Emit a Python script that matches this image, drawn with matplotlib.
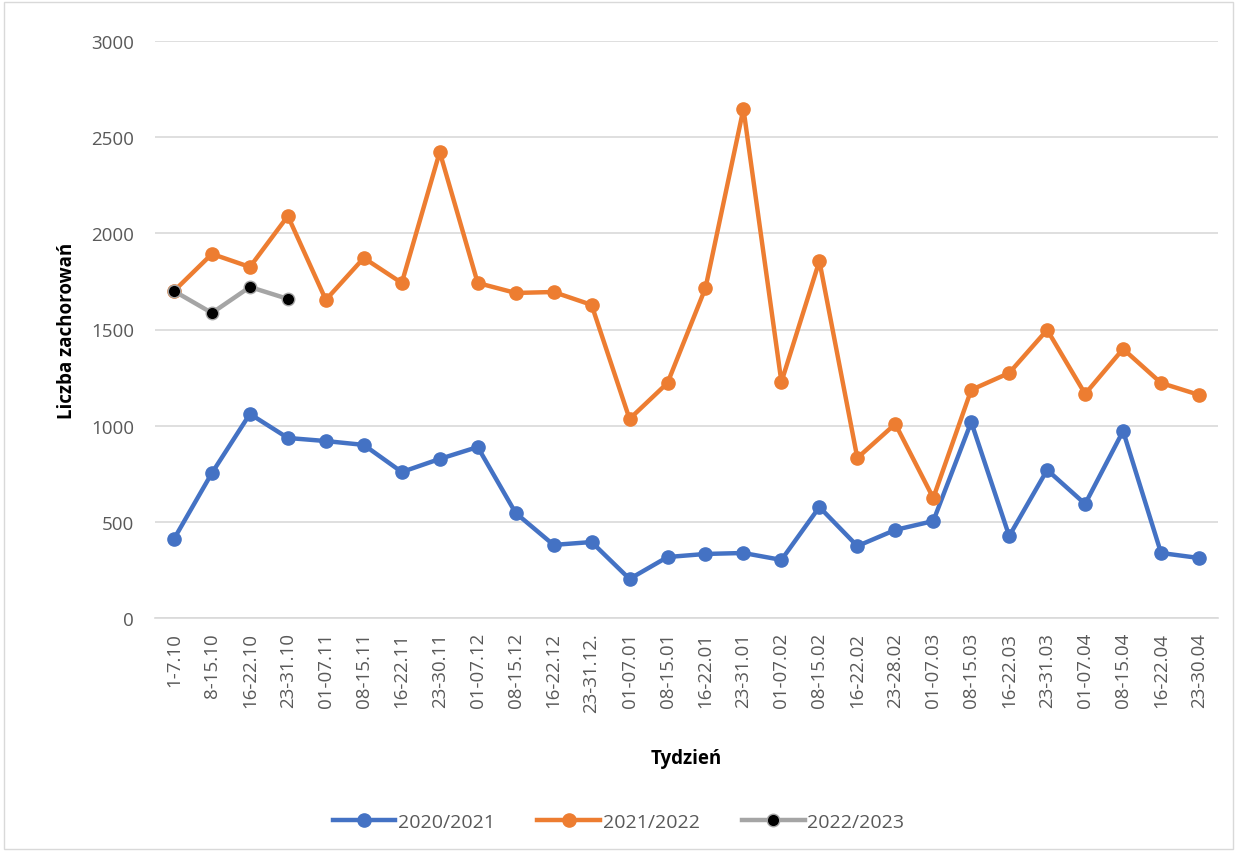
import numpy as np
import matplotlib.pyplot as plt
from matplotlib.patches import Rectangle

plt.rcParams['font.family'] = ['Open Sans', 'DejaVu Sans']

# Week labels
weeks = ["1-7.10", "8-15.10", "16-22.10", "23-31.10", "01-07.11", "08-15.11",
         "16-22.11", "23-30.11", "01-07.12", "08-15.12", "16-22.12", "23-31.12.",
         "01-07.01", "08-15.01", "16-22.01", "23-31.01", "01-07.02", "08-15.02",
         "16-22.02", "23-28.02", "01-07.03", "08-15.03", "16-22.03", "23-31.03",
         "01-07.04", "08-15.04", "16-22.04", "23-30.04"]

# Cases per season
s2020 = [411, 754, 1061, 936, 920, 900, 759, 827, 889, 546, 380, 395,
         203, 317, 333, 338, 302, 577, 374, 458, 504, 1019, 426, 770,
         593, 972, 338, 312]
s2021 = [1700, 1893, 1825, 2090, 1654, 1872, 1742, 2423, 1742, 1690, 1695, 1628,
         1035, 1222, 1716, 2647, 1227, 1856, 832, 1009, 624, 1186, 1274, 1498,
         1165, 1399, 1222, 1160]
s2022 = [1700, 1586, 1721, 1659]

fig = plt.figure(figsize=(12.37, 8.53), dpi=100)
ax = fig.add_axes([155 / 1237, 1 - 619 / 853, (1218 - 155) / 1237, (619 - 42) / 853])

x = np.arange(len(weeks))
ax.plot(x, s2020, color='#4472C4', lw=3.2, marker='o', ms=9.5, label='2020/2021', zorder=3)
ax.plot(x, s2021, color='#ED7D31', lw=3.2, marker='o', ms=9.5, label='2021/2022', zorder=3)
ax.plot(x[:len(s2022)], s2022, color='#A5A5A5', lw=3.2, marker='o', ms=9,
        markerfacecolor='black', markeredgecolor='#A5A5A5', markeredgewidth=1,
        label='2022/2023', zorder=4)

ax.set_xlim(-0.5, len(weeks) - 0.5)
ax.set_ylim(0, 3000)
ax.set_yticks(np.arange(0, 3001, 500))
ax.grid(axis='y', color='#D9D9D9', lw=1.2)
ax.set_axisbelow(True)
for s in ['left', 'right', 'top']:
    ax.spines[s].set_visible(False)
ax.spines['bottom'].set_color('#D9D9D9')
ax.spines['bottom'].set_linewidth(1.2)

ax.set_xticks(x)
ax.set_xticklabels(weeks, rotation=90, fontsize=13.5, color='#595959')
ax.tick_params(axis='x', length=0, pad=10)
ax.tick_params(axis='y', length=0, labelsize=13.5, labelcolor='#595959', pad=15)

ax.set_xlabel('Tydzień', fontsize=13.5, fontweight='bold', labelpad=26)
ax.set_ylabel('Liczba zachorowań', fontsize=13.5, fontweight='bold', labelpad=10)

fig.legend(loc='center', bbox_to_anchor=(0.5, 1 - 823 / 853), ncol=3, frameon=False,
           fontsize=14, labelcolor='#595959', handlelength=3.2, columnspacing=2.2,
           handletextpad=0.15)

fig.patches.append(Rectangle((0.003, 0.003), 0.994, 0.994, transform=fig.transFigure,
                             fill=False, edgecolor='#D9D9D9', lw=1))

fig.savefig('out.png', dpi=100)
